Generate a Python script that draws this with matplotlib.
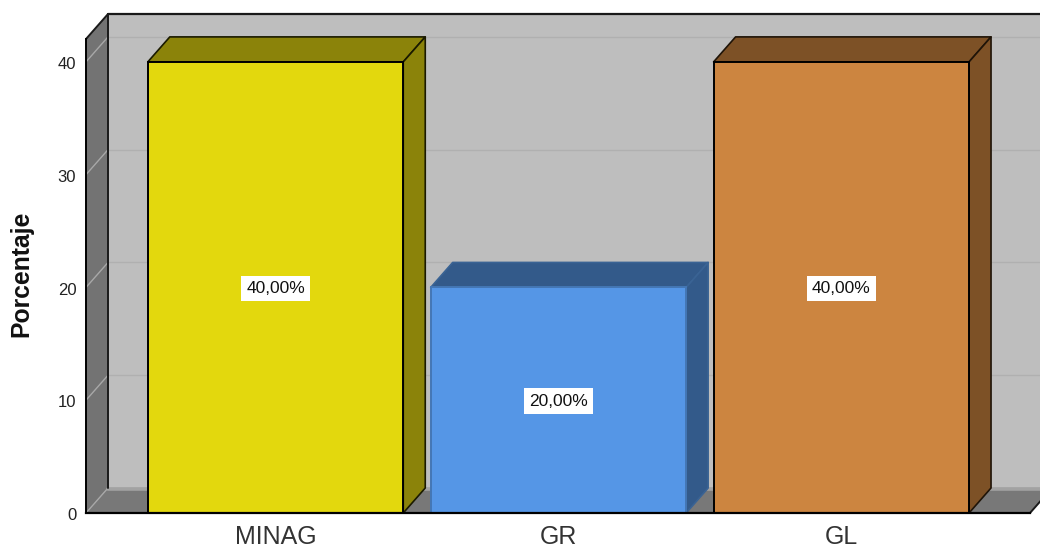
import matplotlib
matplotlib.use('Agg')
import matplotlib.pyplot as plt
from matplotlib.patches import Polygon
from matplotlib.transforms import ScaledTranslation

plt.rcParams['font.family'] = ['Liberation Sans', 'DejaVu Sans']

categories = ['MINAG', 'GR', 'GL']
values = [40, 20, 40]
yticks = [0, 10, 20, 30, 40]
front_colors = ['#E3D80D', '#5596E6', '#CC8540']
dark_colors = ['#8B830A', '#335A8A', '#7D5126']
edge_colors = ['#000000', '#4477B5', '#000000']
top_edge_colors = ['#1A1A00', '#3A6394', '#1F1408']

W, H = 1040, 548
fig = plt.figure(figsize=(W / 100, H / 100), dpi=100)
ax = fig.add_axes([86 / W, (H - 513) / H, (1030 - 86) / W, (513 - 39) / H])

x_min, x_max = -0.67, 2.667
y_max = 42.03
ax.set_xlim(x_min, x_max)
ax.set_ylim(0, y_max)

# depth of the fake 3D box, in data units
dx = 22 / 283
dy = 25 / 11.28
bar_width = 0.903
dark_line = '#1A1A1A'

def face(points, color, edge='none', lw=1.4, z=1):
    ax.add_patch(Polygon(points, closed=True, facecolor=color, edgecolor=edge,
                         linewidth=lw, clip_on=False, zorder=z, joinstyle='round'))

def line(xs, ys, color=dark_line, lw=1.4, z=3):
    ax.plot(xs, ys, color=color, lw=lw, clip_on=False, zorder=z, solid_capstyle='round')

# walls and floor
face([(x_min + dx, dy), (x_max + dx, dy), (x_max + dx, y_max + dy), (x_min + dx, y_max + dy)], '#BEBEBE')
face([(x_min, 0), (x_min + dx, dy), (x_min + dx, y_max + dy), (x_min, y_max)], '#737373', z=2)
face([(x_min, 0), (x_min + dx, dy), (x_max + dx, dy), (x_max, 0)], '#787878', z=2)

# gridlines on back wall and left wall
for t in yticks:
    line([x_min, x_min + dx], [t, t + dy], '#A8A8A8', 1.0, 3)
    line([x_min + dx, x_max + dx], [t + dy, t + dy], '#B0B0B0', 1.0, 1.5)
line([x_min + dx, x_max + dx], [dy * 0.96, dy * 0.96], '#A2A2A2', 2.6, 2.5)

# box outline
line([x_min + dx, x_max + dx], [y_max + dy, y_max + dy], lw=1.6)
line([x_min, x_min + dx], [y_max, y_max + dy])
line([x_min + dx, x_min + dx], [dy, y_max + dy])
line([x_max, x_max + dx], [0, dy])

# bars
for i, v in enumerate(values):
    left = i - bar_width / 2
    right = i + bar_width / 2
    face([(left, v), (left + dx, v + dy), (right + dx, v + dy), (right, v)], dark_colors[i], top_edge_colors[i], 1.2, 4)
    face([(right, 0), (right + dx, dy), (right + dx, v + dy), (right, v)], dark_colors[i], top_edge_colors[i], 1.2, 4)
    ax.bar(i, v, width=bar_width, color=front_colors[i], edgecolor=edge_colors[i], linewidth=1.4, zorder=5, clip_on=False)
    ax.annotate(f'{v:.2f}%'.replace('.', ','), (i, v / 2), xytext=(0, -0.7), textcoords='offset points',
                ha='center', va='center', fontsize=12.5, color='#111111', zorder=6,
                bbox=dict(boxstyle='square,pad=0.3', facecolor='white', edgecolor='none'))

for side in ['top', 'right']:
    ax.spines[side].set_visible(False)
ax.spines['left'].set_linewidth(1.4)
ax.spines['bottom'].set_linewidth(1.6)
ax.spines['left'].set_zorder(7)
ax.spines['bottom'].set_zorder(7)
ax.patch.set_visible(False)

ax.set_xticks(range(len(categories)))
ax.set_xticklabels(categories, fontsize=18, color='#333333')
ax.set_yticks(yticks)
ax.tick_params(axis='y', length=0, pad=7, labelsize=12, labelcolor='#222222')
ax.tick_params(axis='x', length=0, pad=8.5)

# tick labels sit a pixel lower in the reference
shift = ScaledTranslation(0, -1.2 / 100, fig.dpi_scale_trans)
for label in ax.get_yticklabels():
    label.set_transform(label.get_transform() + shift)

fig.text(21 / W, (H - 274) / H, 'Porcentaje', rotation=90, fontsize=17.8, fontweight='bold',
         ha='center', va='center', color='#111111')

fig.savefig('out.png', dpi=100, facecolor='white')
